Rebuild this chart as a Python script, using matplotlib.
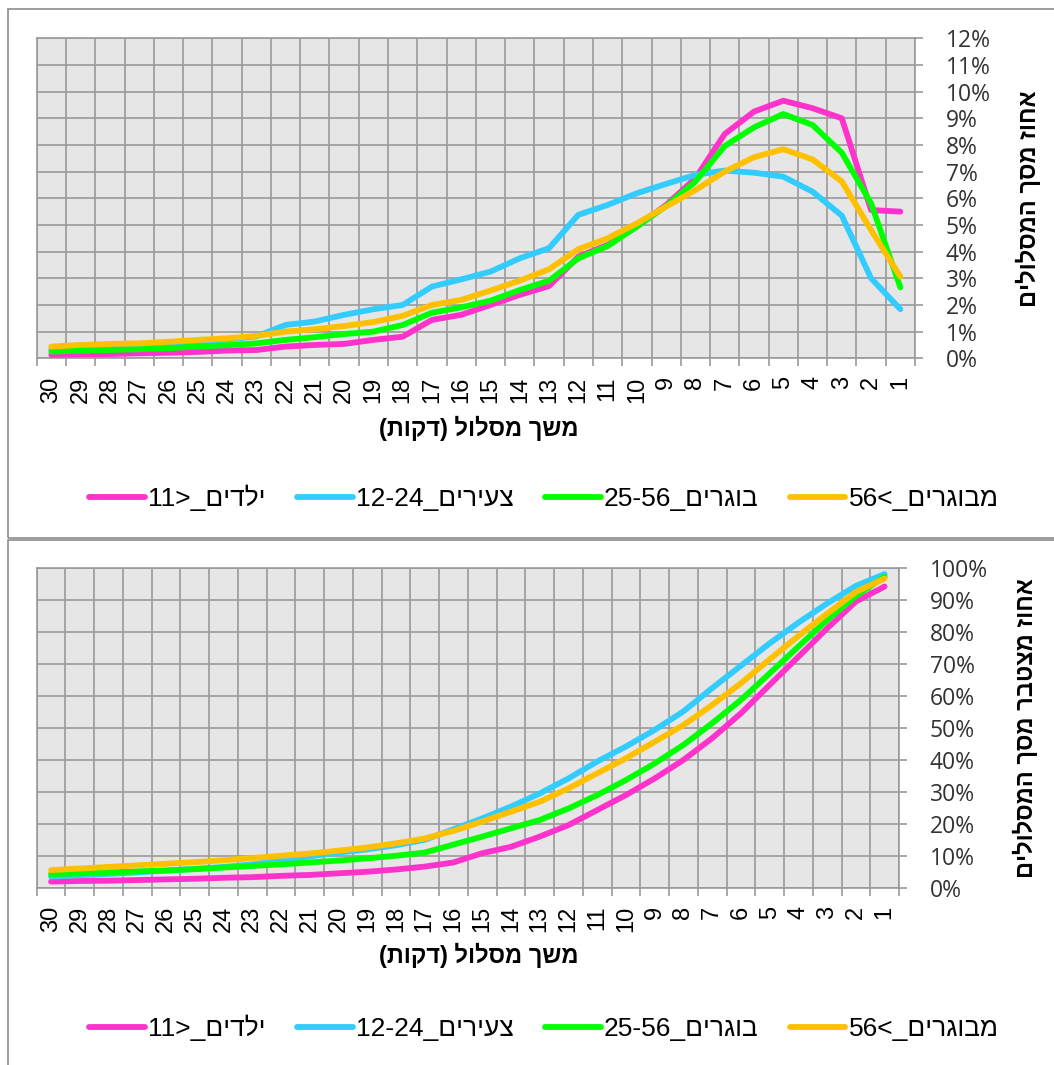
import matplotlib.pyplot as plt
import numpy as np
from matplotlib.patches import Rectangle
from matplotlib.ticker import FuncFormatter, MultipleLocator, FixedLocator

# Route duration buckets in minutes, longest first
minutes = list(range(30, 0, -1))

# Share of routes per duration (%), top panel
share_kids = [0.13, 0.15, 0.16, 0.19, 0.21, 0.24, 0.29, 0.31, 0.44, 0.50, 0.54, 0.69, 0.81, 1.44, 1.63,
              2.00, 2.38, 2.71, 3.81, 4.25, 4.94, 5.75, 6.75, 8.41, 9.25, 9.66, 9.38, 9.00, 5.56, 5.50]
share_youth = [0.35, 0.40, 0.45, 0.50, 0.55, 0.62, 0.70, 0.82, 1.25, 1.38, 1.63, 1.84, 2.00, 2.69, 2.96,
               3.25, 3.75, 4.13, 5.38, 5.75, 6.19, 6.54, 6.88, 7.04, 6.96, 6.81, 6.25, 5.35, 3.00, 1.84]
share_adults = [0.25, 0.29, 0.31, 0.34, 0.38, 0.44, 0.49, 0.56, 0.69, 0.79, 0.91, 1.00, 1.25, 1.71, 1.91,
                2.16, 2.56, 2.91, 3.75, 4.21, 4.94, 5.71, 6.63, 7.96, 8.66, 9.16, 8.75, 7.71, 5.81, 2.66]
share_seniors = [0.44, 0.50, 0.54, 0.56, 0.62, 0.69, 0.75, 0.84, 1.00, 1.09, 1.21, 1.36, 1.59, 2.00, 2.19,
                 2.54, 2.91, 3.34, 4.09, 4.50, 5.06, 5.69, 6.31, 7.00, 7.54, 7.84, 7.46, 6.63, 4.81, 3.06]

# Cumulative share of routes (%), bottom panel
cum_kids = [1.9, 2.1, 2.2, 2.4, 2.6, 2.8, 3.1, 3.3, 3.7, 4.0, 4.5, 5.0, 5.7, 6.6, 7.9,
            10.8, 12.8, 16.0, 19.6, 24.3, 29.0, 34.2, 40.0, 46.8, 54.6, 63.5, 72.3, 81.2, 89.6, 94.3]
cum_youth = [3.5, 3.9, 4.3, 4.8, 5.3, 5.9, 6.5, 7.3, 8.4, 9.8, 11.0, 12.0, 13.3, 15.0, 18.3,
             21.7, 25.4, 29.5, 34.2, 39.5, 44.2, 49.4, 55.2, 62.5, 69.5, 76.5, 83.0, 89.0, 94.5, 98.2]
cum_adults = [4.3, 4.5, 4.8, 5.1, 5.4, 5.8, 6.3, 6.8, 7.3, 7.9, 8.5, 9.2, 10.0, 11.0, 13.5,
              16.0, 18.6, 21.2, 24.8, 29.0, 33.7, 38.9, 44.7, 51.5, 58.8, 67.1, 75.5, 83.8, 91.3, 97.4]
cum_seniors = [5.5, 6.0, 6.5, 7.0, 7.5, 8.0, 8.6, 9.3, 10.0, 10.7, 11.6, 12.6, 13.9, 15.4, 17.8,
               20.7, 23.8, 26.9, 31.1, 35.8, 40.5, 45.7, 50.9, 57.2, 64.0, 71.5, 78.8, 85.8, 92.6, 96.8]


def rtl(s):
    """Hebrew text in visual (left-to-right) order for matplotlib."""
    return s[::-1].translate(str.maketrans('()', ')('))


# Legend labels written in display order
series_labels = ['11>_' + rtl('ילדים'), '12-24_' + rtl('צעירים'),
                 '25-56_' + rtl('בוגרים'), '56<_' + rtl('מבוגרים')]
series_colors = ['#FF33CC', '#33CCFF', '#00FF00', '#FFC000']

W, H = 1054, 1065
HEB = ['Liberation Sans', 'DejaVu Sans']


def fx(x):
    return x / W


def fy(y):
    return 1 - y / H


def draw_panel(fig, rect, series, ymax, ystep, ylabel, xlabel_y, legend_y):
    ax = fig.add_axes(rect)
    ax.set_facecolor('#E6E6E6')
    x = np.arange(len(minutes))
    lines = []
    for vals, col, lab in zip(series, series_colors, series_labels):
        ln, = ax.plot(x, np.array(vals) / 100.0, color=col, lw=4.2,
                      solid_capstyle='round', solid_joinstyle='round', label=lab, zorder=3)
        lines.append(ln)

    ax.set_xlim(-0.5, len(minutes) - 0.5)
    ax.set_ylim(0, ymax)
    ax.set_xticks(x)
    ax.set_xticklabels([str(m) for m in minutes], rotation=90, fontsize=17,
                       family=HEB, va='top', ha='center')
    ax.xaxis.set_minor_locator(FixedLocator(np.arange(-0.5, len(minutes), 1.0)))
    ax.tick_params(axis='x', which='major', length=0, pad=13)
    ax.tick_params(axis='x', which='minor', length=6, width=1.2, color='#999999')
    ax.grid(which='minor', axis='x', color='#9A9A9A', lw=1.2)

    ax.yaxis.set_major_locator(MultipleLocator(ystep))
    ax.yaxis.set_major_formatter(FuncFormatter(lambda v, p: f'{v * 100:.0f}%'))
    ax.yaxis.tick_right()
    ax.tick_params(axis='y', length=6, width=1.2, color='#999999', pad=16)
    for t in ax.get_yticklabels():
        t.set_family('Open Sans')
        t.set_fontsize(16.5)
        t.set_color('#333333')
    ax.grid(which='major', axis='y', color='#9A9A9A', lw=1.2)
    ax.set_axisbelow(True)
    for sp in ax.spines.values():
        sp.set_color('#9A9A9A')
        sp.set_linewidth(1.2)

    ax.yaxis.set_label_position('right')
    ax.set_ylabel(rtl(ylabel), family=HEB, fontsize=17, fontweight='bold',
                  rotation=90, labelpad=18)

    fig.text(0.454, fy(xlabel_y), rtl('משך מסלול (דקות)'), family=HEB, fontsize=17,
             fontweight='bold', ha='center', va='center')

    fig.legend(lines, series_labels, loc='center', bbox_to_anchor=(fx(544), fy(legend_y)),
               ncol=4, frameon=False, handlelength=2.1, handletextpad=0.12,
               columnspacing=1.2, prop={'family': HEB, 'size': 19})
    return ax


fig = plt.figure(figsize=(W / 100, H / 100), dpi=100)

# Chart frames
fig.add_artist(Rectangle((fx(8.3), fy(537.7)), fx(1100), fy(9) - fy(537.7),
                         transform=fig.transFigure, fill=False, ec='#8C8C8C', lw=1.2))
fig.add_artist(Rectangle((fx(8.3), fy(1100)), fx(1100), fy(539.5) - fy(1100),
                         transform=fig.transFigure, fill=False, ec='#8C8C8C', lw=1.2))

draw_panel(fig, [fx(36.7), fy(358.3), fx(915 - 36.7), 320 / H],
           [share_kids, share_youth, share_adults, share_seniors],
           0.12, 0.01, 'אחוז מסך המסלולים', 428, 498)

draw_panel(fig, [fx(36.7), fy(887.7), fx(899 - 36.7), 319.4 / H],
           [cum_kids, cum_youth, cum_adults, cum_seniors],
           1.0, 0.1, 'אחוז מצטבר מסך המסלולים', 955, 1028)

fig.savefig('out.png', dpi=100)
